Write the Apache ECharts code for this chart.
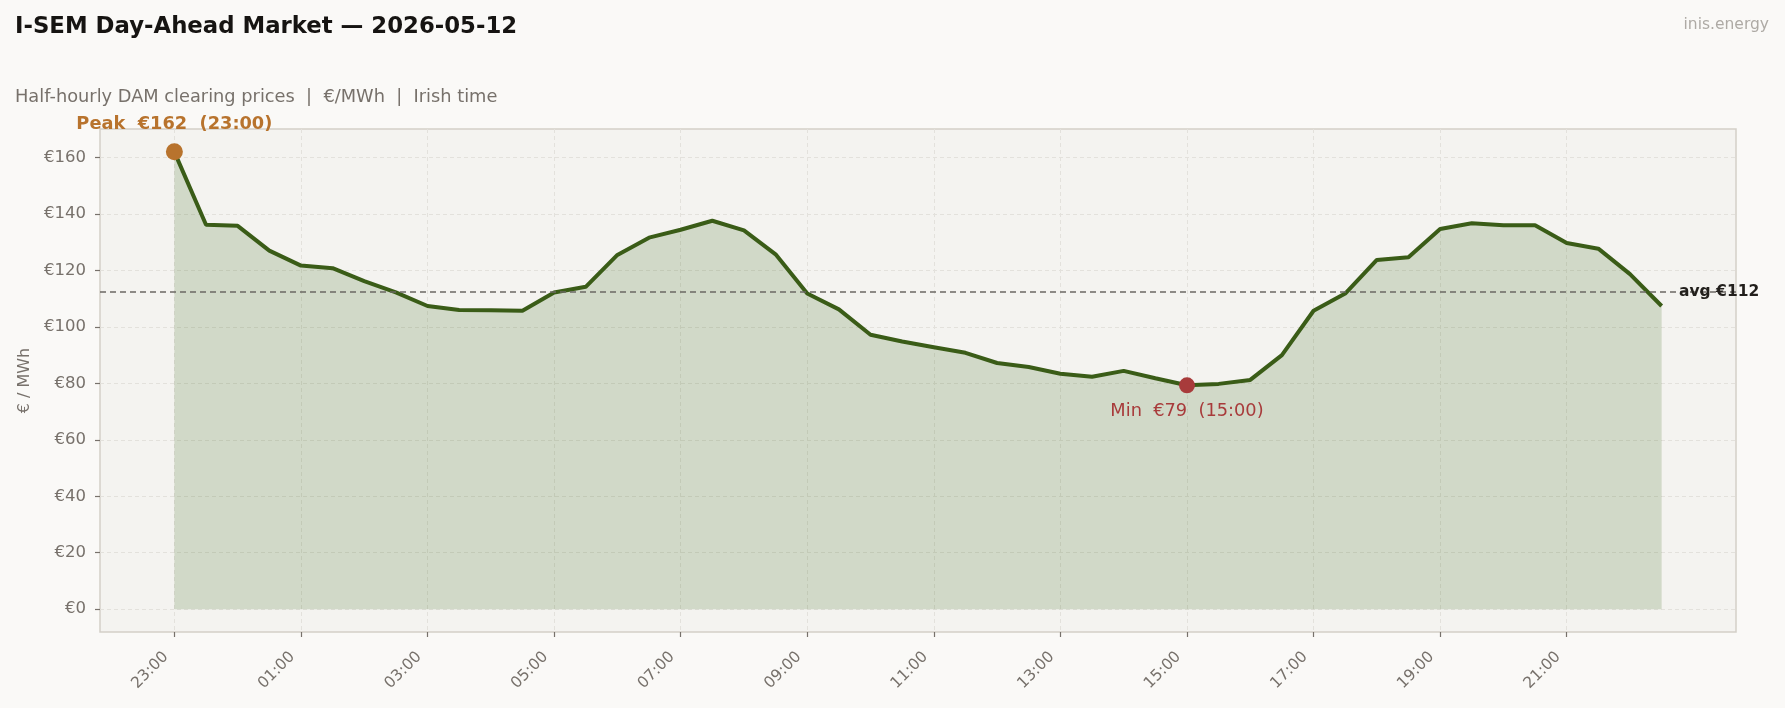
<!DOCTYPE html>
<html>
<head>
<meta charset="utf-8">
<title>I-SEM Day-Ahead Market</title>
<script src="https://cdn.jsdelivr.net/npm/echarts@6/dist/echarts.min.js"></script>
<style>
  html, body { margin: 0; padding: 0; background: #faf9f7; }
  #chart { width: 1785px; height: 708px; }
</style>
</head>
<body>
<div id="chart"></div>
<script>
// half-hourly slots, 23:00 (previous day) .. 22:30
const times = [
  '23:00','23:30','00:00','00:30','01:00','01:30','02:00','02:30',
  '03:00','03:30','04:00','04:30','05:00','05:30','06:00','06:30',
  '07:00','07:30','08:00','08:30','09:00','09:30','10:00','10:30',
  '11:00','11:30','12:00','12:30','13:00','13:30','14:00','14:30',
  '15:00','15:30','16:00','16:30','17:00','17:30','18:00','18:30',
  '19:00','19:30','20:00','20:30','21:00','21:30','22:00','22:30'
];
// DAM clearing price, €/MWh
const prices = [
  162, 136.2, 135.8, 127, 121.7, 120.8, 116.2, 112.2,
  107.4, 106, 105.9, 105.7, 112.2, 114.2, 125.5, 131.6,
  134.4, 137.6, 134.2, 125.7, 111.8, 106.2, 97.2, 94.8,
  92.8, 90.8, 87.2, 85.8, 83.4, 82.3, 84.4, 81.8,
  79.3, 79.8, 81.2, 90, 105.7, 111.8, 123.7, 124.7,
  134.7, 136.7, 136, 136, 129.7, 127.7, 118.7, 107.4
];
// tick positions (index into times) and price ticks
const xTicks = [0, 4, 8, 12, 16, 20, 24, 28, 32, 36, 40, 44];
const yTicks = [0, 20, 40, 60, 80, 100, 120, 140, 160];

const avg = prices.reduce((a, b) => a + b, 0) / prices.length;
let peakIdx = 0, minIdx = 0;
prices.forEach((v, i) => {
  if (v > prices[peakIdx]) peakIdx = i;
  if (v < prices[minIdx]) minIdx = i;
});

const font = 'DejaVu Sans';
const grey = '#77716b';
const myChart = echarts.init(document.getElementById('chart'));
myChart.setOption({
  backgroundColor: '#faf9f7',
  animation: false,
  textStyle: { fontFamily: font },
  title: [
    {
      text: 'I-SEM Day-Ahead Market — 2026-05-12',
      left: 10, top: 11,
      textStyle: { fontFamily: font, fontSize: 22.8, fontWeight: 'bold', color: '#161412' }
    },
    {
      text: 'Half-hourly DAM clearing prices  |  €/MWh  |  Irish time',
      left: 10, top: 83,
      textStyle: { fontFamily: font, fontSize: 17.8, fontWeight: 'normal', color: grey }
    },
    {
      text: 'inis.energy',
      right: 11, top: 12,
      textStyle: { fontFamily: font, fontSize: 15.5, fontWeight: 'normal', color: '#aeaaa5' }
    }
  ],
  grid: {
    left: 100, right: 49, top: 129, bottom: 76,
    show: true,
    backgroundColor: '#f4f3f0',
    borderColor: '#d3cfc8',
    borderWidth: 1.5
  },
  xAxis: {
    type: 'value',
    min: -2.35,
    max: 49.35,
    axisLine: { show: false, onZero: false },
    axisTick: { show: true, customValues: xTicks, length: 5, lineStyle: { color: grey, width: 1.2 } },
    axisLabel: {
      customValues: xTicks,
      formatter: v => times[v],
      rotate: 45,
      margin: 14,
      padding: [0, 12, 0, 0],
      fontSize: 15.5,
      color: grey
    },
    splitLine: { show: true, customValues: xTicks, lineStyle: { color: '#e3e1dc', type: [4, 3], width: 1 } }
  },
  yAxis: {
    type: 'value',
    min: -8.1,
    max: 170.1,
    name: '€ / MWh',
    nameLocation: 'middle',
    nameRotate: 90,
    nameGap: 67,
    nameTextStyle: { fontSize: 16, color: grey },
    axisLine: { show: false, onZero: false },
    axisTick: { show: true, customValues: yTicks, length: 5, lineStyle: { color: grey, width: 1.2 } },
    axisLabel: {
      customValues: yTicks,
      formatter: v => '€' + v,
      margin: 14,
      fontSize: 16.5,
      color: grey
    },
    splitLine: { show: true, customValues: yTicks, lineStyle: { color: '#e3e1dc', type: [4, 3], width: 1 } }
  },
  series: [
    {
      type: 'line',
      data: prices.map((v, i) => [i, v]),
      symbol: 'none',
      lineStyle: { color: '#3a5c17', width: 4 },
      areaStyle: { color: 'rgba(60,105,25,0.27)', origin: 0 },
      z: 3,
      markLine: {
        silent: true,
        symbol: 'none',
        label: { show: false },
        lineStyle: { color: '#6b6863', type: [6, 4], width: 1.5 },
        data: [{ yAxis: avg }]
      },
      markPoint: {
        silent: true,
        data: [
          {
            coord: [peakIdx, prices[peakIdx]],
            symbol: 'circle', symbolSize: 17,
            itemStyle: { color: '#b8732d' },
            label: {
              show: true, position: 'top', distance: 10,
              formatter: 'Peak  €' + Math.round(prices[peakIdx]) + '  (' + times[peakIdx] + ')',
              fontSize: 17.8, fontWeight: 'bold', color: '#b8732d'
            }
          },
          {
            coord: [minIdx, prices[minIdx]],
            symbol: 'circle', symbolSize: 16,
            itemStyle: { color: '#a83b3b' },
            label: {
              show: true, position: 'bottom', distance: 9,
              formatter: 'Min  €' + Math.round(prices[minIdx]) + '  (' + times[minIdx] + ')',
              fontSize: 17.8, color: '#a83b3b'
            }
          },
          {
            coord: [47.55, avg],
            symbol: 'circle', symbolSize: 0,
            label: {
              show: true, position: 'right', distance: 0,
              formatter: 'avg €' + Math.round(avg),
              fontSize: 15.5, fontWeight: 'bold', color: '#221f1c'
            }
          }
        ]
      }
    }
  ]
});
</script>
</body>
</html>
